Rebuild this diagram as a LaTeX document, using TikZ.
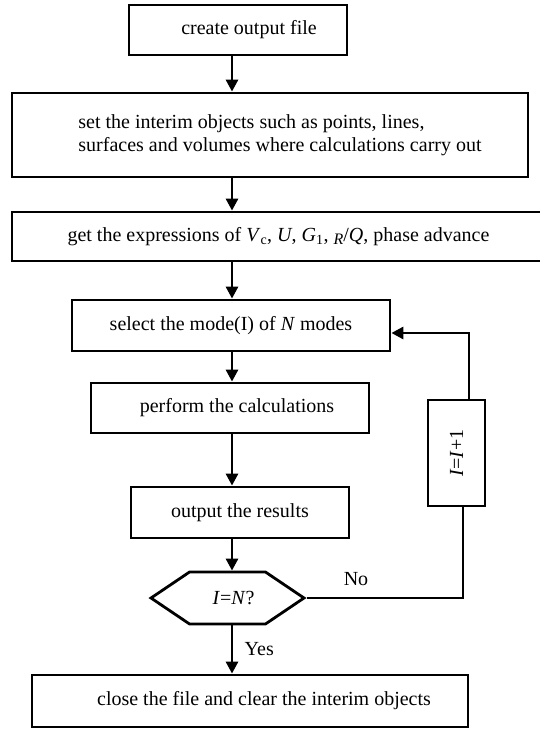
\documentclass[tikz,border=0pt]{standalone}
\usepackage{fontspec}
\setmainfont{Liberation Serif}
\usetikzlibrary{arrows.meta,shapes.symbols}
\tikzset{%
  procbox/.style = {shape=rectangle, draw, line width=2.8pt,%
                    inner sep=0pt, align=center},%
  decide/.style  = {shape=signal, signal to=east and west,%
                    signal pointer angle=68, draw, line width=2.8pt,%
                    inner sep=0pt},%
  flow/.style    = {line width=2.8pt, -{Triangle[width=12pt,length=12pt]}},%
  backline/.style = {line width=2.8pt}%
}
\newcommand{\vr}[1]{\textit{#1}}

\begin{document}
\begin{tikzpicture}[x=1pt,y=-1pt,
	every node/.style = {font=\fontsize{20}{23.5}\selectfont}]
	\useasboundingbox (0,0) rectangle (539,729);
	\coordinate (spine) at (232,0);
	\node [procbox, minimum width=218, minimum height=50] (create) at (238,30)
		{\hspace*{22pt}create output file};
	\node [procbox, minimum width=516, minimum height=84, align=left] (setobj) at (270,135)
		{\hspace*{20pt}set the interim objects such as points, lines,\\
		\hspace*{20pt}surfaces and volumes where calculations carry out};
	\node [procbox, minimum width=533, minimum height=49] (express) at (278.5,236.5)
		{get the expressions of \vr{V}\textsubscript{c}, \vr{U}, \vr{G}\textsubscript{1},
		\raisebox{-3pt}{\fontsize{16}{16}\selectfont\vr{R}}/\vr{Q}, phase advance};
	\node [procbox, minimum width=318, minimum height=51] (select) at (231,325.5)
		{select the mode(I) of \vr{N} modes};
	\node [procbox, minimum width=278, minimum height=50] (calc) at (230,408)
		{\hspace*{14pt}perform the calculations};
	\node [procbox, minimum width=218, minimum height=51] (result) at (240,512.5)
		{output the results};
	\node [decide, minimum width=153, minimum height=52] (check) at (227.5,598)
		{\hspace*{12pt}\vr{I}=\vr{N}?};
	\node [procbox, minimum width=436, minimum height=52] (close) at (250,701)
		{\hspace*{28pt}close the file and clear the interim objects};
	\node [procbox, minimum width=57, minimum height=106] (incr) at (456.5,453)
		{\rotatebox{90}{\vr{I}=\vr{I}+1}};
	\draw [flow] (create.south -| spine) -- (setobj.north -| spine);
	\draw [flow] (setobj.south -| spine) -- (express.north -| spine);
	\draw [flow] (express.south -| spine) -- (select.north -| spine);
	\draw [flow] (select.south -| spine) -- (calc.north -| spine);
	\draw [flow] (calc.south -| spine) -- (result.north -| spine);
	\draw [flow] (result.south -| spine) -- (check.north -| spine);
	\draw [flow] (check.south -| spine) -- node [right=8pt] (yes) {Yes} (close.north -| spine);
	\draw [backline] (check.east) -| ([xshift=6.5pt]incr.south);
	\draw [flow] ([xshift=12.5pt]incr.north) |- ([yshift=-7.5pt]select.east);
	\node (no) at (356,579) {No};
	\end{tikzpicture}
\end{document}
